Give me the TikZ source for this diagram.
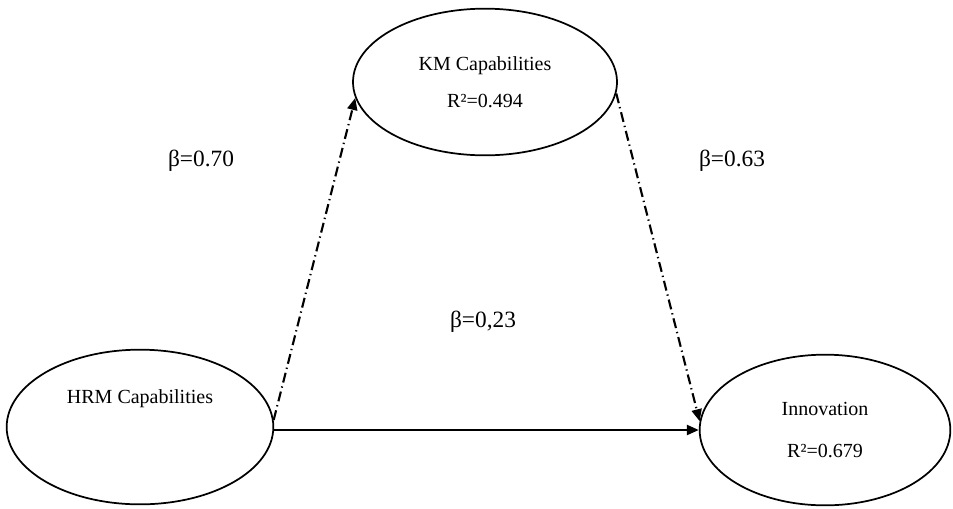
\documentclass[tikz,border=0pt]{standalone}
\usepackage{fontspec}
\setmainfont{Liberation Serif}
\usetikzlibrary{shapes.geometric, arrows.meta, positioning}

\begin{document}
\begin{tikzpicture}[x=0.75pt,y=-0.75pt]
\useasboundingbox (0,0) rectangle (953,508);
\tikzset{
  construct/.style={draw, ellipse, line width=1.3pt, inner sep=0pt, align=center,
    font=\fontsize{15}{18}\selectfont},
  dashdot/.style={line width=1.6pt, dash pattern=on 7.5pt off 3pt on 1pt off 3pt,
    -{Triangle[length=9pt,width=7.5pt]}},
  coef/.style={font=\fontsize{17.5}{20}\selectfont, inner sep=0pt}
}
% constructs
\node [construct, minimum width=198pt, minimum height=110pt] (km)   at (485,82)  {KM Capabilities\\[10pt]R²=0.494};
\node [construct, minimum width=200pt, minimum height=116pt] (hrm)  at (140,427) {HRM Capabilities\\[22pt]\strut};
\node [construct, minimum width=188pt, minimum height=113pt] (inno) at (825,430) {Innovation\\[14pt]R²=0.679};
% paths
\draw [dashdot] (hrm.3) -- (km.187);
\draw [dashdot] (km.-5) -- (inno.176);
\draw [line width=1.8pt, -{Triangle[length=9pt,width=7.5pt]}] (inno.west -| hrm.east) -- (inno.west);
% path coefficients
\node [coef] (b1) at (201,161) {β=0.70};
\node [coef] (b2) at (732,161) {β=0.63};
\node [coef] (b3) at (483,322) {β=0,23};
\end{tikzpicture}
\end{document}
